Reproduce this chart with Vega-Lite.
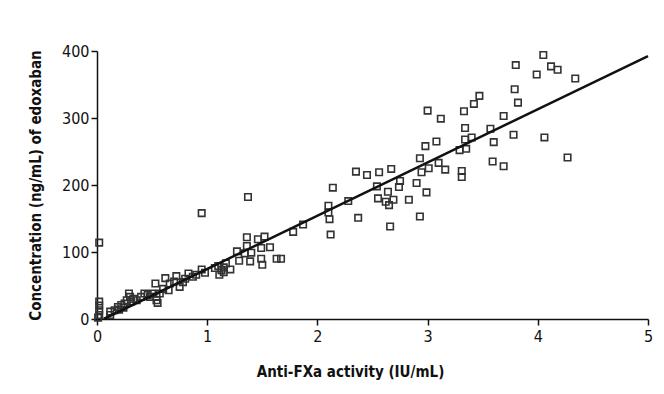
{
  "$schema": "https://vega.github.io/schema/vega-lite/v6.json",
  "autosize": {"type": "none"},
  "padding": {"left": 97, "top": 51, "right": 16, "bottom": 75},
  "width": 551,
  "height": 268,
  "background": "white",
  "config": {
    "view": {"stroke": null},
    "font": "DejaVu Sans Condensed",
    "axis": {
      "domainColor": "#111",
      "domainWidth": 1.5,
      "tickColor": "#111",
      "tickWidth": 1.5,
      "tickSize": 6,
      "grid": false,
      "labelFont": "DejaVu Sans Condensed",
      "labelFontSize": 16,
      "labelColor": "#111",
      "labelFlush": false,
      "titleFont": "DejaVu Sans Condensed",
      "titleFontSize": 15,
      "titleFontWeight": "bold",
      "titleColor": "#111"
    }
  },
  "datasets": {
    "pts": [
      {"a":0.02,"c":114},{"a":0.02,"c":26},{"a":0.02,"c":20},{"a":0.02,"c":13},{"a":0.02,"c":6},{"a":0.01,"c":2},
      {"a":0.12,"c":6},{"a":0.12,"c":11},{"a":0.16,"c":13},{"a":0.19,"c":18},{"a":0.2,"c":14},{"a":0.22,"c":21},{"a":0.24,"c":17},{"a":0.25,"c":23},{"a":0.27,"c":28},{"a":0.29,"c":38},{"a":0.3,"c":33},{"a":0.31,"c":26},{"a":0.33,"c":30},{"a":0.36,"c":28},{"a":0.4,"c":33},{"a":0.43,"c":38},{"a":0.46,"c":36},{"a":0.48,"c":33},{"a":0.5,"c":38},{"a":0.53,"c":53},{"a":0.54,"c":28},{"a":0.54,"c":33},{"a":0.55,"c":24},{"a":0.57,"c":38},{"a":0.6,"c":45},{"a":0.62,"c":61},{"a":0.65,"c":43},{"a":0.66,"c":53},{"a":0.7,"c":56},{"a":0.72,"c":64},{"a":0.75,"c":48},{"a":0.78,"c":55},{"a":0.8,"c":60},{"a":0.83,"c":68},{"a":0.87,"c":63},{"a":0.9,"c":66},{"a":0.95,"c":74},{"a":0.98,"c":69},{"a":0.95,"c":158},
      {"a":1.07,"c":76},{"a":1.1,"c":79},{"a":1.13,"c":73},{"a":1.11,"c":66},{"a":1.15,"c":77},{"a":1.17,"c":83},{"a":1.21,"c":74},{"a":1.15,"c":70},
      {"a":1.27,"c":101},{"a":1.29,"c":87},{"a":1.34,"c":98},{"a":1.36,"c":109},{"a":1.36,"c":122},{"a":1.37,"c":182},{"a":1.39,"c":86},{"a":1.4,"c":99},{"a":1.46,"c":119},{"a":1.49,"c":106},{"a":1.49,"c":90},{"a":1.5,"c":81},{"a":1.52,"c":123},{"a":1.57,"c":107},{"a":1.63,"c":90},{"a":1.67,"c":90},{"a":1.78,"c":130},{"a":1.87,"c":141},
      {"a":2.1,"c":169},{"a":2.1,"c":159},{"a":2.11,"c":149},{"a":2.12,"c":126},{"a":2.14,"c":196},{"a":2.28,"c":176},{"a":2.37,"c":151},{"a":2.35,"c":220},{"a":2.45,"c":215},{"a":2.56,"c":219},{"a":2.54,"c":198},{"a":2.55,"c":180},{"a":2.62,"c":175},{"a":2.64,"c":190},{"a":2.65,"c":170},{"a":2.66,"c":138},{"a":2.67,"c":224},{"a":2.69,"c":178},{"a":2.74,"c":197},{"a":2.75,"c":206},{"a":2.83,"c":178},{"a":2.9,"c":203},{"a":2.93,"c":153},{"a":2.93,"c":240},{"a":2.945,"c":219},{"a":2.98,"c":258},{"a":2.99,"c":189},{"a":3.0,"c":311},{"a":3.01,"c":225},{"a":3.08,"c":265},{"a":3.1,"c":233},{"a":3.12,"c":299},{"a":3.16,"c":223},{"a":3.29,"c":252},{"a":3.31,"c":221},{"a":3.31,"c":212},{"a":3.33,"c":310},{"a":3.34,"c":268},{"a":3.34,"c":285},{"a":3.35,"c":254},{"a":3.4,"c":271},{"a":3.42,"c":321},{"a":3.47,"c":333},{"a":3.57,"c":284},{"a":3.59,"c":235},{"a":3.6,"c":264},{"a":3.69,"c":228},{"a":3.69,"c":303},{"a":3.78,"c":275},{"a":3.79,"c":343},{"a":3.8,"c":379},{"a":3.82,"c":323},{"a":3.99,"c":365},{"a":4.05,"c":394},{"a":4.06,"c":271},{"a":4.12,"c":377},{"a":4.18,"c":372},{"a":4.27,"c":241},{"a":4.34,"c":359}
    ],
    "fit": [{"a": 0.06, "c": 0}, {"a": 5, "c": 392.5}]
  },
  "layer": [
    {
      "data": {"name": "pts"},
      "mark": {"type": "point", "shape": "square", "size": 42, "strokeWidth": 1.6, "color": "#333", "filled": false, "opacity": 1},
      "encoding": {
        "x": {"field": "a", "type": "quantitative", "scale": {"domain": [0, 5], "nice": false},
              "axis": {"values": [0,1,2,3,4,5], "format": "d", "title": "Anti-FXa activity (IU/mL)", "labelPadding": 3, "titleX": 253, "titleY": 57, "titleBaseline": "alphabetic"}},
        "y": {"field": "c", "type": "quantitative", "scale": {"domain": [0, 400], "nice": false},
              "axis": {"values": [0,100,200,300,400], "format": "d", "title": "Concentration (ng/mL) of edoxaban", "labelPadding": 2, "titlePadding": 18}}
      }
    },
    {
      "data": {"name": "fit"},
      "mark": {"type": "line", "color": "#111", "strokeWidth": 2.5},
      "encoding": {
        "x": {"field": "a", "type": "quantitative"},
        "y": {"field": "c", "type": "quantitative"}
      }
    }
  ]
}
